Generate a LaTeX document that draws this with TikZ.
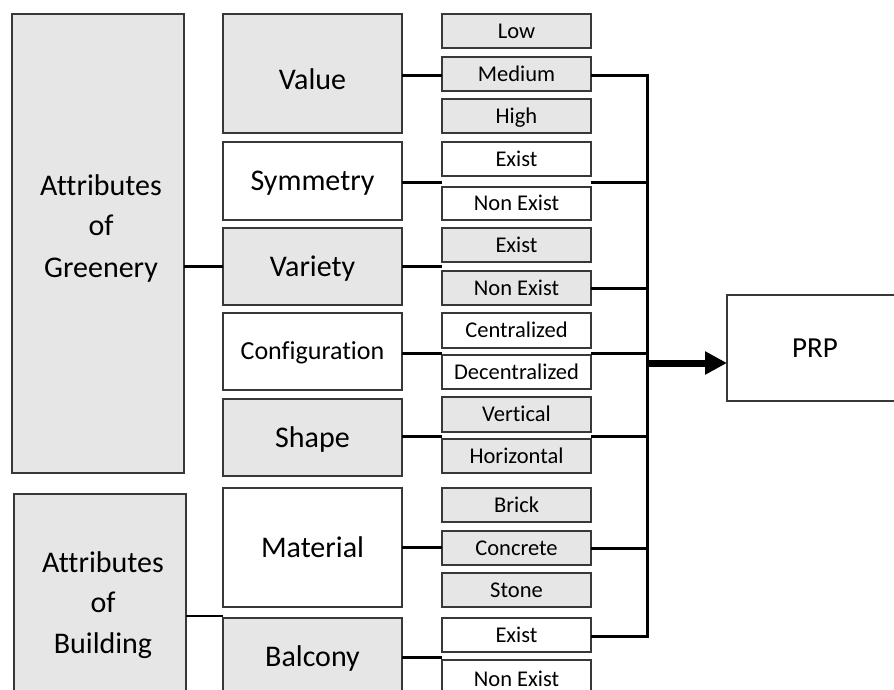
\documentclass[tikz,border=0pt]{standalone}
\usepackage{fontspec}
\setmainfont{Carlito}[Ligatures=NoCommon]
\usetikzlibrary{arrows.meta}
\definecolor{boxgrey}{HTML}{E6E6E6}
\definecolor{edgec}{HTML}{383838}
\begin{document}
\begin{tikzpicture}[x=1pt,y=-1pt,
  box/.style={draw=edgec, line width=1.4pt, inner sep=0pt, outer sep=0pt, anchor=north west},
  gbox/.style={box, fill=boxgrey},
  wbox/.style={box, fill=white},
  big/.style={font=\fontsize{30}{36}\selectfont, text height=19pt, text depth=0pt},
  midf/.style={font=\fontsize{26}{31}\selectfont, text height=16.4pt, text depth=0pt},
  small/.style={font=\fontsize{22.5}{27}\selectfont, text height=14.2pt, text depth=0pt},
  mcol/.style={minimum width=179pt},
  rcol/.style={minimum width=149pt},
  conn/.style={line width=3pt, line join=miter},
  lbl/.style={font=\fontsize{30}{36}\selectfont, anchor=base, inner sep=0pt}]
\useasboundingbox (0,0) rectangle (894,690);
\clip (0,0) rectangle (894,690);

% left column
\node[gbox, minimum width=172pt, minimum height=459pt] (green) at (12,14) {};
\node[gbox, minimum width=172pt, minimum height=220pt] (build) at (14,494) {};
\node[lbl] (g1) at (101,195) {Attributes};
\node[lbl] (g2) at (101,235) {of};
\node[lbl] (g3) at (101,277) {Greenery};
\node[lbl] (b1) at (103,572) {Attributes};
\node[lbl] (b2) at (103,612) {of};
\node[lbl] (b3) at (103,653) {Building};

% middle column
\node[gbox, mcol, big, minimum height=119pt, text height=32pt] (value) at (223,14) {Value};
\node[wbox, mcol, big, minimum height=78pt] (sym) at (223,142) {Symmetry};
\node[gbox, mcol, big, minimum height=77pt] (variety) at (223,228) {Variety};
\node[wbox, mcol, midf, minimum height=77pt] (config) at (223,313) {Configuration};
\node[gbox, mcol, big, minimum height=77pt] (shape) at (223,399) {Shape};
\node[wbox, mcol, big, minimum height=119pt] (material) at (223,488) {Material};
\node[gbox, mcol, big, minimum height=78pt] (balcony) at (223,618) {Balcony};

% right column
\node[gbox, rcol, small, minimum height=34pt] (low) at (442,14) {Low};
\node[gbox, rcol, small, minimum height=34pt] (medium) at (442,57) {Medium};
\node[gbox, rcol, small, minimum height=34pt] (high) at (442,99) {High};
\node[wbox, rcol, small, minimum height=34pt] (ex1) at (442,142) {Exist};
\node[wbox, rcol, small, minimum height=33pt] (ne1) at (442,187) {Non Exist};
\node[gbox, rcol, small, minimum height=34pt] (ex2) at (442,228) {Exist};
\node[gbox, rcol, small, minimum height=34pt] (ne2) at (442,271) {Non Exist};
\node[wbox, rcol, small, minimum height=35pt] (cen) at (442,313) {Centralized};
\node[wbox, rcol, small, minimum height=34pt] (dec) at (442,355) {Decentralized};
\node[gbox, rcol, small, minimum height=35pt] (vert) at (442,397) {Vertical};
\node[gbox, rcol, small, minimum height=34pt] (hor) at (442,439) {Horizontal};
\node[gbox, rcol, small, minimum height=34pt] (brick) at (442,488) {Brick};
\node[gbox, rcol, small, minimum height=34pt] (conc) at (442,531) {Concrete};
\node[gbox, rcol, small, minimum height=34pt] (stone) at (442,573) {Stone};
\node[wbox, rcol, small, minimum height=34pt] (ex3) at (442,618) {Exist};
\node[wbox, rcol, small, minimum height=38pt] (ne3) at (442,660) {Non Exist};

% result
\node[wbox, font=\fontsize{29}{35}\selectfont, text height=18.3pt, text depth=0pt,
      minimum width=176pt, minimum height=106pt] (prp) at (727,295) {PRP};

% row levels
\coordinate (bus) at (647,0);
\coordinate (yV) at (0,76);
\coordinate (yS) at (0,182);
\coordinate (yC) at (0,353);
\coordinate (yH) at (0,436);
\coordinate (yB) at (0,657);
\coordinate (yBR) at (0,636);
\coordinate (yBd) at (0,616);
\coordinate (yA) at (0,363);

% left connectors
\draw[conn] (green.east |- variety.west) -- (variety.west);
\draw[line width=2.4pt] (build.east |- yBd) -- (balcony.north west |- yBd);

% middle to right
\draw[conn] (value.east |- yV) -- (medium.west |- yV);
\draw[conn] (sym.east |- yS) -- (ex1.west |- yS);
\draw[conn] (variety.east) -- (ex2.west |- variety.east);
\draw[conn] (config.east |- yC) -- (cen.west |- yC);
\draw[conn] (shape.east |- yH) -- (vert.west |- yH);
\draw[conn] (material.east) -- (conc.west |- material.east);
\draw[conn] (balcony.east |- yB) -- (ex3.west |- yB);

% right to bus
\draw[conn] (medium.east |- yV) -| (bus |- yBR) -- (ex3.east |- yBR);
\draw[conn] (ne1.east |- yS) -- (bus |- yS);
\draw[conn] (ne2.east) -- (bus |- ne2.east);
\draw[conn] (dec.east |- yC) -- (bus |- yC);
\draw[conn] (hor.east |- yH) -- (bus |- yH);
\draw[conn] (conc.east) -- (bus |- conc.east);

% arrow
\draw[line width=7pt, -{Triangle[length=22pt,width=22pt]}] (bus |- yA) -- (prp.west |- yA);
\end{tikzpicture}
\end{document}
